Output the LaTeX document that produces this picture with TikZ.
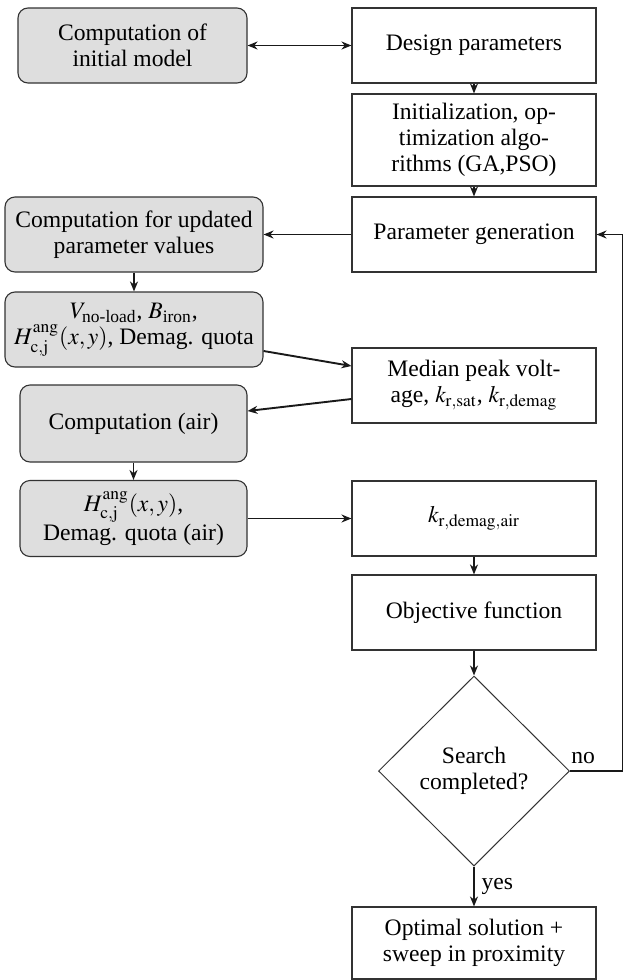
\documentclass[tikz,border=0pt]{standalone}
\usepackage{amsmath}
\usepackage{mathptmx}
\usepackage{fontspec}
\setmainfont{Liberation Serif}
\usetikzlibrary{positioning, arrows.meta, shapes.geometric}

\begin{document}
\begin{tikzpicture}[
                x=0.5pt, y=-0.5pt,
                >={Stealth[length=5pt, width=4pt]},
                font=\fontsize{11.8}{13}\selectfont,
                process/.style={draw=black!80, line width=0.55pt, rectangle, minimum width=122pt, minimum height=37.5pt, inner sep=1pt, align=center},
                compute/.style={process, fill=black!13, rounded corners=5pt},
                decision/.style={draw=black!80, line width=0.5pt, diamond, minimum width=95.5pt, minimum height=95pt, inner sep=0pt, align=center},
                flow/.style={->, line width=0.95pt, draw=black!90},
            ]
                \useasboundingbox (0,0) rectangle (624,980);

                % Right column: optimisation loop
                \node[process] (design) at (474,45.5) {Design parameters};
                \node[process, minimum height=46pt] (algo) at (474,140) {Initialization, op-\\ timization algo-\\ rithms (GA,PSO)};
                \node[process] (paramgen) at (474,234.5) {Parameter generation};
                \node[process] (median) at (474,385.5) {Median peak volt-\\ age, $k_{\mathrm{r{,}sat}}$, $k_{\mathrm{r{,}demag}}$};
                \node[process] (kair) at (474,518.5) {$k_{\mathrm{r{,}demag{,}air}}$};
                \node[process] (objective) at (474,612.5) {Objective function};
                \node[decision] (search) at (474,771) {Search\\ completed?};
                \node[process, minimum height=36pt] (optimal) at (474,943) {Optimal solution +\\ sweep in proximity};

                % Left column: field computations
                \node[compute, minimum width=114.5pt] (init) at (132.5,45.5) {Computation of\\ initial model};
                \node[compute, minimum width=129pt] (update) at (134,234.5) {Computation for updated\\ parameter values};
                \node[compute, minimum width=129pt] (fields) at (134,329.5) {$V_{\text{no-load}}$, $B_{\text{iron}}$,\\ $H_{\mathrm{c{,}j}}^{\mathrm{ang}}(x,y)$, Demag. quota};
                \node[compute, minimum width=113.5pt, minimum height=38.5pt] (air) at (133.5,423.5) {Computation (air)};
                \node[compute, minimum width=113.5pt, minimum height=38pt] (fieldsair) at (133.5,518.5) {$H_{\mathrm{c{,}j}}^{\mathrm{ang}}(x,y)$,\\ Demag. quota (air)};

                % Connect the boxes
                \draw[flow, <->] (init) -- (design);
                \draw[flow] (design) -- (algo);
                \draw[flow] (algo) -- (paramgen);
                \draw[flow] (paramgen) -- (update);
                \draw[flow] (update) -- (fields);
                \draw[flow] ([yshift=-10.75pt]fields.east) -- ([yshift=9.75pt]median.west);
                \draw[flow] ([yshift=-6.75pt]median.west) -- ([yshift=6.25pt]air.east);
                \draw[flow] (air) -- (fieldsair);
                \draw[flow] (fieldsair) -- (kair);
                \draw[flow] (kair) -- (objective);
                \draw[flow] (objective) -- (search);
                \draw[flow] (search) -- node[right] {yes} (optimal);

                % Feedback when the search is not completed
                \coordinate (loop) at (622.5,771);
                \draw[flow] (search.east) -- node[above, pos=0.25] {no} (loop) |- (paramgen.east);
            \end{tikzpicture}
\end{document}
